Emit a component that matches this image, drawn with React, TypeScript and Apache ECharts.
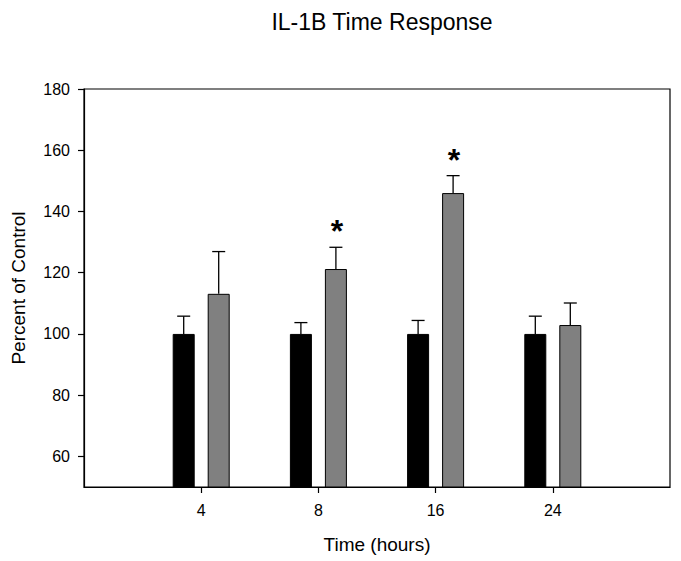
import React, { useEffect, useRef } from "react";
import * as echarts from "echarts";

const categories = ["4", "8", "16", "24"];
const controlMeans = [100, 100, 100, 100];
const controlErrors = [5.8, 3.7, 4.4, 5.8];
const treatedMeans = [113.1, 121.2, 146.0, 102.9];
const treatedErrors = [13.8, 7.1, 5.7, 7.2];
const significant = [false, true, true, false];
const yTicks = [60, 80, 100, 120, 140, 160, 180];

const FONT = '"Liberation Sans", Arial, Helvetica, sans-serif';
const BAR_WIDTH = 22;
const BAR_GAP = 13;
const OFFSET = (BAR_WIDTH + BAR_GAP) / 2;
const CAP_HALF = 6.5;

const xPositions = categories.map((_, i) => i + 1);

function errorSeries(means: number[], errors: number[], dx: number, marks: boolean[] | null) {
  return {
    type: "custom",
    z: 5,
    silent: true,
    data: means.map((m, i) => [xPositions[i], m, errors[i], marks && marks[i] ? 1 : 0]),
    renderItem: (params: any, api: any) => {
      const x = api.value(0);
      const m = api.value(1);
      const e = api.value(2);
      const sig = api.value(3);
      const base = api.coord([x, m]);
      const top = api.coord([x, m + e]);
      const cx = base[0] + dx;
      const children: any[] = [
        {
          type: "line",
          shape: { x1: cx, y1: base[1], x2: cx, y2: top[1] },
          style: { stroke: "#000", lineWidth: 1.3 },
        },
        {
          type: "line",
          shape: { x1: cx - CAP_HALF, y1: top[1], x2: cx + CAP_HALF, y2: top[1] },
          style: { stroke: "#000", lineWidth: 1.3 },
        },
      ];
      if (sig) {
        children.push({
          type: "text",
          style: {
            x: cx + 1,
            y: top[1] - 16,
            text: "*",
            fill: "#000",
            font: `bold 32px ${FONT}`,
            align: "center",
            verticalAlign: "middle",
          },
        });
      }
      return { type: "group", children };
    },
  };
}

export default function App() {
  const ref = useRef<HTMLDivElement>(null);
  useEffect(() => {
    if (!ref.current) return;
    const chart = echarts.init(ref.current, null, { renderer: "svg" });
    chart.setOption({
      animation: false,
      backgroundColor: "#fff",
      title: {
        text: "IL-1B Time Response",
        left: 377,
        top: 5,
        textAlign: "center",
        textStyle: { fontFamily: FONT, fontSize: 23, fontWeight: "normal", color: "#000" },
      },
      grid: {
        left: 84,
        right: 11,
        top: 89,
        bottom: 74,
        show: true,
        borderColor: "#000",
        borderWidth: 1.2,
        backgroundColor: "transparent",
      },
      xAxis: {
        type: "value",
        min: 0,
        max: 5,
        name: "Time (hours)",
        nameLocation: "middle",
        nameGap: 48,
        nameTextStyle: { fontFamily: FONT, fontSize: 19, color: "#000" },
        axisLine: { show: true, lineStyle: { color: "#000", width: 1.2 } },
        axisTick: { show: true, length: 6, lineStyle: { color: "#000", width: 1.2 }, customValues: xPositions },
        axisLabel: {
          customValues: xPositions,
          formatter: (v: number) => categories[Math.round(v) - 1] ?? "",
          fontFamily: FONT,
          fontSize: 16,
          color: "#000",
          margin: 15,
        },
        splitLine: { show: false },
      },
      yAxis: {
        type: "value",
        min: 50,
        max: 180,
        name: "Percent of Control",
        nameLocation: "middle",
        nameGap: 56,
        nameTextStyle: { fontFamily: FONT, fontSize: 19, color: "#000" },
        axisLine: { show: true, lineStyle: { color: "#000", width: 1.2 } },
        axisTick: { show: true, length: 6, lineStyle: { color: "#000", width: 1.2 }, customValues: yTicks },
        axisLabel: {
          customValues: yTicks,
          fontFamily: FONT,
          fontSize: 16,
          color: "#000",
          margin: 14,
        },
        splitLine: { show: false },
      },
      series: [
        {
          type: "bar",
          name: "Control",
          data: controlMeans.map((v, i) => [xPositions[i], v]),
          barWidth: BAR_WIDTH,
          barGap: `${(BAR_GAP / BAR_WIDTH) * 100}%`,
          itemStyle: { color: "#000", borderColor: "#000", borderWidth: 1 },
        },
        {
          type: "bar",
          name: "IL-1B",
          data: treatedMeans.map((v, i) => [xPositions[i], v]),
          barWidth: BAR_WIDTH,
          barGap: `${(BAR_GAP / BAR_WIDTH) * 100}%`,
          itemStyle: { color: "#808080", borderColor: "#000", borderWidth: 1 },
        },
        errorSeries(controlMeans, controlErrors, -OFFSET, null),
        errorSeries(treatedMeans, treatedErrors, OFFSET, significant),
      ],
    });
    return () => chart.dispose();
  }, []);
  return (
    <div
      ref={ref}
      style={{ position: "absolute", left: 0, top: 0, width: 681, height: 561, background: "#fff" }}
    />
  );
}
